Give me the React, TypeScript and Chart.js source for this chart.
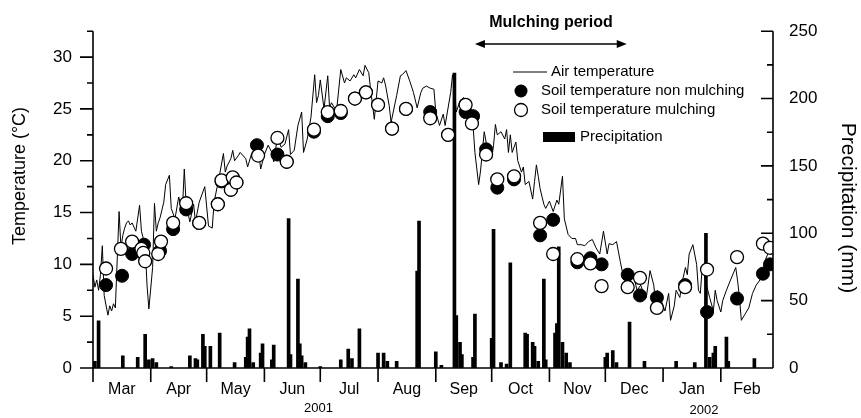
import React, { useEffect, useRef } from 'react';
import { Chart, registerables } from 'chart.js';

Chart.register(...registerables);

// ---- Data (days counted from 1 March 2001) ----
const monthNames = ['Mar', 'Apr', 'May', 'Jun', 'Jul', 'Aug', 'Sep', 'Oct', 'Nov', 'Dec', 'Jan', 'Feb'];
const monthStartDays = [0, 31, 61, 92, 122, 153, 184, 214, 245, 275, 306, 337];
const monthLengths = [31, 30, 31, 30, 31, 31, 30, 31, 30, 31, 31, 28];
const tempTicks = [0, 5, 10, 15, 20, 25, 30];
const precipTicks = [0, 50, 100, 150, 200, 250];
const yearLabels = ['2001', '2002'];

const airDays = [
  0, 1, 2, 3, 4, 5, 6, 8, 9, 10, 11, 12, 14, 15, 16, 17, 18, 19, 20, 21, 23, 25, 26, 28, 29, 30,
  32, 33, 34, 35, 36, 38, 39, 41, 42, 44, 46, 48, 49, 50, 52, 54, 55, 57, 60, 62, 64, 65, 68, 70,
  71, 72, 74, 75, 76, 78, 79, 82, 83, 85, 87, 89, 90, 92, 94, 96, 97, 99, 101, 103, 105, 106, 108,
  110, 112, 113, 115, 117, 119, 120, 121, 122, 124, 126, 127, 128, 130, 131, 133, 135, 136, 138,
  140, 141, 143, 145, 146, 148, 149, 151, 153, 155, 156, 157, 159, 160, 163, 165, 166, 168, 170,
  172, 174, 176, 177, 179, 181, 183, 184, 186, 188, 189, 192, 193, 194, 195, 197, 199, 200, 202,
  204, 205, 207, 208, 210, 211, 214, 215, 216, 217, 219, 221, 222, 223, 224, 225, 227, 228, 230,
  231, 232, 234, 236, 237, 238, 239, 240, 242, 243, 245, 247, 249, 250, 252, 253, 255, 257, 259,
  260, 262, 264, 266, 268, 270, 272, 274, 276, 277, 279, 281, 283, 284, 286, 288, 290, 292, 294,
  295, 297, 299, 301, 302, 303, 305, 307, 309, 310, 312, 313, 315, 316, 318, 319, 320, 322, 324,
  325, 326, 327, 328, 330, 331, 333, 334, 335, 337, 338, 340, 342, 345, 346, 347, 348, 350, 352,
  354, 356, 358, 360, 361, 363, 364,
];
const airTemps = [
  9.0, 7.8, 8.5, 7.5, 9.0, 11.8, 7.0, 5.1, 6.0, 5.5, 6.2, 5.8, 15.1, 11.6, 12.8, 13.5, 14.0, 14.2, 13.8, 14.0, 13.2, 15.7, 13.2, 11.8, 8.0, 5.7,
  9.7, 15.9, 13.2, 14.0, 14.5, 16.0, 17.7, 18.6, 15.4, 14.4, 16.5, 15.3, 19.2, 15.8, 14.1, 15.8, 14.1, 16.0, 17.5, 13.7, 13.5, 16.0, 18.7, 20.7,
  18.9, 19.5, 20.2, 21.0, 20.0, 20.5, 20.8, 20.2, 19.4, 20.6, 21.2, 20.8, 19.2, 20.6, 21.5, 20.8, 19.9, 22.3, 21.3, 21.6, 23.0, 20.6, 21.0,
  23.4, 24.7, 20.8, 22.1, 24.2, 28.3, 25.6, 26.3, 27.8, 25.0, 28.2, 25.1, 25.6, 25.0, 25.3, 28.8, 27.5, 28.0, 27.7,
  28.3, 28.0, 28.8, 28.2, 29.2, 28.5, 26.9, 24.0, 27.7, 27.5, 28.0, 27.3, 25.3, 23.7, 26.3, 28.2, 28.3, 28.7, 27.7,
  26.6, 25.1, 26.6, 27.0, 27.2, 27.0, 26.9, 24.7, 23.4, 24.5, 23.4, 26.6, 28.3, 27.0, 24.7, 25.8, 26.1, 25.8, 24.7,
  23.4, 20.8, 17.7, 19.0, 22.8, 21.8, 20.2, 21.5, 23.5, 22.5, 22.8, 22.1, 23.0, 20.8, 22.5, 20.8, 21.8, 20.0, 18.9,
  19.4, 17.7, 18.0, 16.3, 18.0, 19.6, 18.5, 17.3, 15.8, 15.4, 16.1, 15.1, 16.2, 15.8, 18.5, 14.4, 12.9, 12.5, 12.5,
  11.9, 11.9, 11.8, 12.2, 12.4, 11.6, 11.0, 13.2, 11.0, 12.0, 11.9, 12.2, 10.3, 9.4, 9.0, 9.2, 9.1, 7.5, 8.0,
  7.5, 6.8, 9.4, 8.0, 6.2, 7.5, 6.5, 5.5, 7.2, 4.6, 6.0, 7.5, 6.8, 8.1, 9.7, 9.0, 11.0, 11.9, 10.0,
  7.5, 7.2, 9.7, 9.0, 7.5, 6.8, 5.5, 7.5, 6.5, 5.4, 6.5, 7.5, 8.4, 9.7, 8.4, 6.8, 4.6, 5.2, 5.8,
  7.2, 8.0, 8.5, 9.7, 10.5, 11.3, 11.9,
];

const nonMulchDays = [7, 15.6, 21, 27.4, 36, 43, 50, 57, 67, 69, 74, 75, 77, 88, 99, 104, 118.6, 126, 133, 140.6, 146.5, 153, 160.5, 168, 181, 190.6, 200, 204, 211, 217, 226, 240, 247, 260, 267, 273, 287, 293.6, 302.7, 317.8, 329.6, 345.7, 359.6, 363.4];
const nonMulchTemps = [8.0, 8.9, 11.0, 11.9, 11.3, 13.4, 15.3, 14.0, 15.8, 18.0, 17.2, 18.3, 17.9, 21.5, 20.6, 19.9, 22.8, 24.3, 24.6, 26.0, 26.6, 25.4, 23.1, 25.0, 24.7, 22.5, 24.7, 24.3, 21.1, 17.4, 18.2, 12.8, 14.3, 10.2, 10.6, 10.0, 9.0, 7.0, 6.8, 8.0, 5.4, 6.7, 9.1, 10.0];

const mulchDays = [7, 15, 21, 26, 27, 28, 35, 36.5, 43, 50, 57, 67, 69, 74, 75, 77, 88.6, 99, 104, 118.6, 126, 133, 140.6, 146.5, 153, 160.5, 168, 181, 190.6, 200, 203.4, 211, 217, 226, 240, 247, 260, 267, 273, 287, 293.6, 302.7, 317.8, 329.6, 345.7, 359.6, 363.4];
const mulchTemps = [9.6, 11.5, 12.2, 11.5, 11.1, 10.3, 11.0, 12.2, 14.0, 15.9, 14.0, 15.8, 18.1, 17.2, 18.4, 17.9, 20.5, 22.2, 19.9, 23.0, 24.7, 24.8, 26.0, 26.6, 25.4, 23.1, 25.0, 24.1, 22.5, 25.4, 23.6, 20.6, 18.2, 18.5, 14.0, 11.0, 10.5, 10.1, 7.9, 7.8, 8.7, 5.8, 7.8, 9.5, 10.7, 12.0, 11.6];

const precipDays = [1, 3, 16, 24, 28, 30, 32, 34, 42, 52, 55, 56, 59, 60, 63, 68, 76, 82, 83, 84, 86, 90, 91, 96, 97, 105, 106, 110, 111, 112, 114, 122, 133, 137, 139, 143, 153, 156, 158, 163, 174, 175, 184, 187, 194, 195, 197, 198, 204, 205, 214, 215, 219, 222, 224, 232, 233, 236, 237, 239, 242, 243, 248, 249, 250, 252, 254, 256, 275, 276, 279, 281, 288, 296, 313, 323, 329, 331, 333, 334, 340, 341, 355];
const precipValues = [5, 35, 9, 8, 25, 6, 7, 4, 1, 9, 7, 6, 25, 16, 16, 26, 4, 8, 23, 29, 4, 11, 18, 6, 17, 111, 10, 66, 18, 9, 4, 1, 6, 14, 7, 29, 11, 11, 5, 5, 72, 109, 12, 2, 219, 39, 19, 10, 8, 40, 22, 103, 4, 3, 78, 26, 25, 19, 16, 5, 66, 6, 26, 33, 90, 19, 11, 4, 8, 11, 13, 4, 34, 5, 5, 4, 100, 8, 11, 16, 23, 5, 7];

const mulchingStartDay = 205;
const mulchingEndDay = 286.5;

const FONT = "'Liberation Sans', Arial, sans-serif";

const overlayPlugin = {
  id: 'overlay',
  afterDraw(chart: any) {
    const { ctx, chartArea: a, scales } = chart;
    const sx = scales.x;
    const sy = scales.y;
    const sy1 = scales.y1;
    ctx.save();
    ctx.strokeStyle = '#000';
    ctx.fillStyle = '#000';
    ctx.lineWidth = 1.6;
    ctx.beginPath();
    ctx.moveTo(a.left, a.top);
    ctx.lineTo(a.left, a.bottom);
    ctx.moveTo(a.left, a.bottom);
    ctx.lineTo(a.right, a.bottom);
    ctx.moveTo(a.right, a.top);
    ctx.lineTo(a.right, a.bottom);
    for (let v = 0; v <= 32.5 + 1e-6; v += 2.5) {
      const py = sy.getPixelForValue(v);
      const len = Math.abs(v % 5) < 1e-6 ? 13 : 6;
      ctx.moveTo(a.left - len, py);
      ctx.lineTo(a.left, py);
    }
    for (let v = 0; v <= 250; v += 25) {
      const py = sy1.getPixelForValue(v);
      const len = v % 50 === 0 ? 12 : 6;
      ctx.moveTo(a.right - len, py);
      ctx.lineTo(a.right, py);
    }
    monthStartDays.forEach((d) => {
      const px = sx.getPixelForValue(d);
      ctx.moveTo(px, a.bottom);
      ctx.lineTo(px, a.bottom + 14);
    });
    ctx.stroke();

    // axis titles
    ctx.textAlign = 'center';
    ctx.textBaseline = 'middle';
    ctx.font = `18px ${FONT}`;
    ctx.save();
    ctx.translate(20, 176);
    ctx.rotate(-Math.PI / 2);
    ctx.fillText('Temperature (°C)', 0, 0);
    ctx.restore();
    ctx.save();
    ctx.font = `21px ${FONT}`;
    ctx.translate(848, 208);
    ctx.rotate(Math.PI / 2);
    ctx.fillText('Precipitation (mm)', 0, 0);
    ctx.restore();

    // year labels
    ctx.font = `13px ${FONT}`;
    ctx.fillText(yearLabels[0], sx.getPixelForValue(121), 408);
    ctx.fillText(yearLabels[1], sx.getPixelForValue(328), 410);

    // mulching period
    ctx.font = `bold 16px ${FONT}`;
    const x0 = sx.getPixelForValue(mulchingStartDay);
    const x1 = sx.getPixelForValue(mulchingEndDay);
    ctx.fillText('Mulching period', 551, 23);
    ctx.lineWidth = 1.5;
    ctx.beginPath();
    ctx.moveTo(x0 + 6, 44);
    ctx.lineTo(x1 - 6, 44);
    ctx.stroke();
    ctx.beginPath();
    ctx.moveTo(x0, 44);
    ctx.lineTo(x0 + 10, 40);
    ctx.lineTo(x0 + 10, 48);
    ctx.closePath();
    ctx.moveTo(x1, 44);
    ctx.lineTo(x1 - 10, 40);
    ctx.lineTo(x1 - 10, 48);
    ctx.closePath();
    ctx.fill();

    // legend
    ctx.textAlign = 'left';
    ctx.font = `15px ${FONT}`;
    ctx.lineWidth = 1;
    ctx.beginPath();
    ctx.moveTo(513, 72);
    ctx.lineTo(547, 72);
    ctx.stroke();
    ctx.fillText('Air temperature', 551, 72);
    ctx.beginPath();
    ctx.arc(521, 91, 6.5, 0, Math.PI * 2);
    ctx.fill();
    ctx.fillText('Soil temperature non mulching', 541, 91);
    ctx.beginPath();
    ctx.arc(521, 110, 6.5, 0, Math.PI * 2);
    ctx.fillStyle = '#fff';
    ctx.fill();
    ctx.lineWidth = 1.3;
    ctx.stroke();
    ctx.fillStyle = '#000';
    ctx.fillText('Soil temperature mulching', 541, 110);
    ctx.fillRect(543, 132, 32, 10);
    ctx.fillText('Precipitation', 580, 137);
    ctx.restore();
  },
};

export default function App() {
  const canvasRef = useRef<HTMLCanvasElement | null>(null);

  useEffect(() => {
    if (!canvasRef.current) return;
    Chart.defaults.font.family = FONT;
    Chart.defaults.color = '#000';
    const chart = new Chart(canvasRef.current, {
      type: 'bar',
      data: {
        datasets: [
          {
            type: 'line',
            label: 'Soil temperature mulching',
            data: mulchDays.map((d, i) => ({ x: d, y: mulchTemps[i] })),
            showLine: false,
            pointRadius: 6.5,
            pointBackgroundColor: '#fff',
            pointBorderColor: '#000',
            pointBorderWidth: 1.3,
            yAxisID: 'y',
            order: 0,
          } as any,
          {
            type: 'line',
            label: 'Soil temperature non mulching',
            data: nonMulchDays.map((d, i) => ({ x: d, y: nonMulchTemps[i] })),
            showLine: false,
            pointRadius: 6.5,
            pointBackgroundColor: '#000',
            pointBorderColor: '#000',
            pointBorderWidth: 1,
            yAxisID: 'y',
            order: 1,
          } as any,
          {
            type: 'line',
            label: 'Air temperature',
            data: airDays.map((d, i) => ({ x: d, y: airTemps[i] })),
            borderColor: '#000',
            borderWidth: 1,
            pointRadius: 0,
            tension: 0,
            yAxisID: 'y',
            order: 2,
          } as any,
          {
            type: 'bar',
            label: 'Precipitation',
            data: precipDays.map((d, i) => ({ x: d, y: precipValues[i] })),
            backgroundColor: '#000',
            borderWidth: 0,
            barThickness: 3,
            grouped: false,
            yAxisID: 'y1',
            order: 3,
          } as any,
        ],
      },
      options: {
        responsive: false,
        animation: false,
        devicePixelRatio: 1,
        events: [],
        layout: { padding: { top: 28, left: 0, right: 0, bottom: 0 } },
        plugins: { legend: { display: false }, tooltip: { enabled: false } },
        scales: {
          x: {
            type: 'linear',
            min: 0,
            max: 365,
            offset: false,
            grid: { display: false, drawTicks: false, offset: false },
            border: { display: false },
            afterBuildTicks: (s: any) => {
              s.ticks = monthStartDays.map((d, i) => ({ value: d + monthLengths[i] / 2 }));
            },
            ticks: {
              autoSkip: false,
              maxRotation: 0,
              padding: 12,
              color: '#000',
              font: { size: 16 },
              callback: (_v: any, i: number) => monthNames[i],
            },
            afterFit: (s: any) => {
              s.height = 50;
            },
          },
          y: {
            type: 'linear',
            position: 'left',
            min: 0,
            max: 32.5,
            grid: { display: false, drawTicks: false },
            border: { display: false },
            afterBuildTicks: (s: any) => {
              s.ticks = tempTicks.map((v) => ({ value: v }));
            },
            ticks: { padding: 21, color: '#000', font: { size: 17 } },
            afterFit: (s: any) => {
              s.width = 93;
            },
          },
          y1: {
            type: 'linear',
            position: 'right',
            min: 0,
            max: 250,
            grid: { display: false, drawTicks: false },
            border: { display: false },
            afterBuildTicks: (s: any) => {
              s.ticks = precipTicks.map((v) => ({ value: v }));
            },
            ticks: { padding: 16, color: '#000', font: { size: 17 } },
            afterFit: (s: any) => {
              s.width = 88;
            },
          },
        } as any,
      },
      plugins: [overlayPlugin],
    });
    return () => chart.destroy();
  }, []);

  return (
    <div style={{ position: 'absolute', left: 0, top: 0, width: 861, height: 418, background: '#fff' }}>
      <canvas ref={canvasRef} width={861} height={418} />
    </div>
  );
}
